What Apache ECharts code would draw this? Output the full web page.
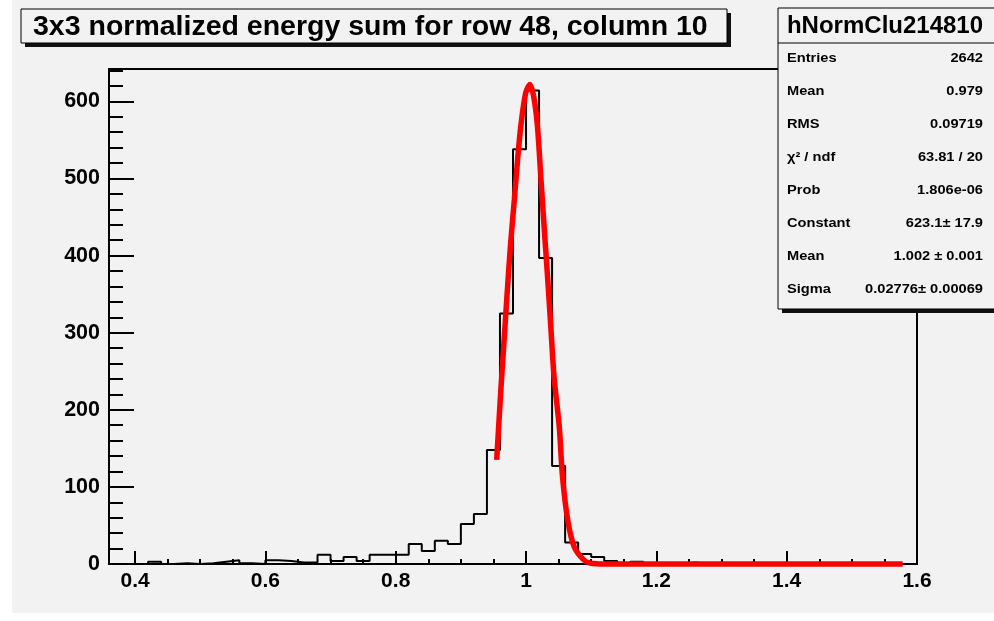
<!DOCTYPE html>
<html><head><meta charset="utf-8">
<script src="https://cdn.jsdelivr.net/npm/echarts@6/dist/echarts.min.js"></script>
<style>html,body{margin:0;padding:0;background:#fff}#c{width:994px;height:621px}</style>
</head><body><div id="c"></div><script>
// ---- data ----
const binLowEdges = [0.36,0.38,0.40,0.42,0.44,0.46,0.48,0.50,0.52,0.54,0.56,0.58,0.60,0.62,0.64,0.66,0.68,0.70,0.72,0.74,0.76,0.78,0.80,0.82,0.84,0.86,0.88,0.90,0.92,0.94,0.96,0.98,1.00,1.02,1.04,1.06,1.08,1.10,1.12,1.14,1.16,1.18,1.20,1.22,1.24,1.26,1.28,1.30,1.32,1.34,1.36,1.38,1.40,1.42,1.44,1.46,1.48,1.50,1.52,1.54,1.56,1.58];
const binUpperEdge = 1.60;
const counts = [0,0,0,3,0,1,0,1,3,5,1,0,5,4,2,2,12,4,9,4,12,12,12,26,17,30,26,52,65,148,325,538,614,397,127,28,13,9,4,0,3,0,0,0,2,0,0,0,0,0,0,0,0,0,0,0,0,0,0,0,0,0];
const fitX = [0.955,0.961,0.966,0.971,0.976,0.982,0.987,0.992,0.9995,1.006,1.012,1.0175,1.0226,1.0277,1.033,1.038,1.043,1.051,1.056,1.064,1.074,1.089,1.099,1.12,1.578];
const fitY = [135,221,286,351,412,472,524,568,611,622,605,568,503,438,373,308,243,178,113,57,22,5,1,0,0];
const xTickValues = [0.4,0.6,0.8,1.0,1.2,1.4,1.6];
const xMinorTickValues = [0.45,0.5,0.55,0.65,0.7,0.75,0.85,0.9,0.95,1.05,1.1,1.15,1.25,1.3,1.35,1.45,1.5,1.55];
const yTickValues = [0,100,200,300,400,500,600];
const yMinorTickValues = [20,40,60,80,120,140,160,180,220,240,260,280,320,340,360,380,420,440,460,480,520,540,560,580,620,640];
const titleText = '3x3 normalized energy sum for row 48, column 10';
const statsName = 'hNormClu214810';
const statsLabels = ['Entries','Mean','RMS','\u03c7\u00b2 / ndf','Prob','Constant','Mean','Sigma'];
const statsValues = ['2642','0.979','0.09719','63.81 / 20','1.806e-06','623.1\u00b1 17.9','1.002 \u00b1 0.001','0.02776\u00b1 0.00069'];

// ---- build ----
const histData = binLowEdges.map((e, i) => [e, counts[i]]);
histData.push([binUpperEdge, counts[counts.length - 1]]);
const fitData = fitX.map((x, i) => [x, fitY[i]]);

const FONT = '"Liberation Sans", Arial, Helvetica, sans-serif';
const BG = '#f2f2f2';

const statsGraphics = [];
statsLabels.forEach((lab, i) => {
  const y = 59 + 33 * i;
  statsGraphics.push({type:'text', x:787, y:y, scaleX:1.22, z:102,
    style:{text:lab, font:'bold 12px ' + FONT, fill:'#000', align:'left', verticalAlign:'middle'}});
  statsGraphics.push({type:'text', x:983, y:y, scaleX:1.22, z:102,
    style:{text:statsValues[i], font:'bold 12px ' + FONT, fill:'#000', align:'right', verticalAlign:'middle'}});
});

const chart = echarts.init(document.getElementById('c'), null, {renderer:'canvas'});
chart.setOption({
  backgroundColor: BG,
  animation: false,
  grid: {left:109, right:77, top:69, bottom:57, show:true, borderColor:'#000', borderWidth:2, backgroundColor:'transparent'},
  xAxis: [{
    type:'value', min:0.36, max:1.6, position:'bottom',
    axisLine:{show:true, onZero:false, lineStyle:{color:'#000', width:2}},
    axisTick:{show:true, inside:true, length:13, customValues:xTickValues, lineStyle:{color:'#000', width:2}},
    axisLabel:{show:true, customValues:xTickValues, margin:7, color:'#000', fontSize:21, fontWeight:'bold', fontFamily:FONT,
      formatter: v => String(Math.round(v * 100) / 100)},
    splitLine:{show:false}
  },{
    type:'value', min:0.36, max:1.6, position:'bottom',
    axisLine:{show:false},
    axisTick:{show:true, inside:true, length:5, customValues:xMinorTickValues, lineStyle:{color:'#000', width:2}},
    axisLabel:{show:false}, splitLine:{show:false}
  }],
  yAxis: [{
    type:'value', min:0, max:642, position:'left',
    axisLine:{show:true, onZero:false, lineStyle:{color:'#000', width:2}},
    axisTick:{show:true, inside:true, length:25, customValues:yTickValues, lineStyle:{color:'#000', width:2}},
    axisLabel:{show:true, customValues:yTickValues, margin:9, color:'#000', fontSize:21.5, fontWeight:'bold', fontFamily:FONT},
    splitLine:{show:false}
  },{
    type:'value', min:0, max:642, position:'left',
    axisLine:{show:false},
    axisTick:{show:true, inside:true, length:14, customValues:yMinorTickValues, lineStyle:{color:'#000', width:2}},
    axisLabel:{show:false}, splitLine:{show:false}
  }],
  series: [{
    type:'line', name:'hist', data:histData, step:'end', showSymbol:false, symbol:'none',
    xAxisIndex:0, yAxisIndex:0, clip:false, z:3,
    lineStyle:{color:'#000', width:2}
  },{
    type:'line', name:'gaus', data:fitData, smooth:0.3, showSymbol:false, symbol:'none',
    xAxisIndex:0, yAxisIndex:0, clip:false, z:4,
    lineStyle:{color:'#ff0000', width:5.5}
  }],
  graphic: [
    {type:'rect', z:-10, shape:{x:0, y:0, width:12, height:621}, style:{fill:'#fff'}},
    {type:'rect', z:-10, shape:{x:0, y:613, width:994, height:8}, style:{fill:'#fff'}},
    // title box
    {type:'rect', z:100, shape:{x:25, y:13, width:706, height:34}, style:{fill:'#111'}},
    {type:'rect', z:101, shape:{x:21, y:9, width:706, height:34}, style:{fill:BG, stroke:'#000', lineWidth:1}},
    {type:'text', z:102, x:33, y:27, style:{text:titleText, font:'bold 28.5px ' + FONT, fill:'#000', align:'left', verticalAlign:'middle'}},
    // stats box
    {type:'rect', z:100, shape:{x:782, y:12, width:220, height:301}, style:{fill:'#111'}},
    {type:'rect', z:101, shape:{x:778, y:8, width:220, height:301}, style:{fill:BG, stroke:'#000', lineWidth:1}},
    {type:'line', z:102, shape:{x1:778, y1:43, x2:994, y2:43}, style:{stroke:'#000', lineWidth:1}},
    {type:'text', z:102, x:885, y:26, style:{text:statsName, font:'bold 24px ' + FONT, fill:'#000', align:'center', verticalAlign:'middle'}}
  ].concat(statsGraphics)
});
</script></body></html>
